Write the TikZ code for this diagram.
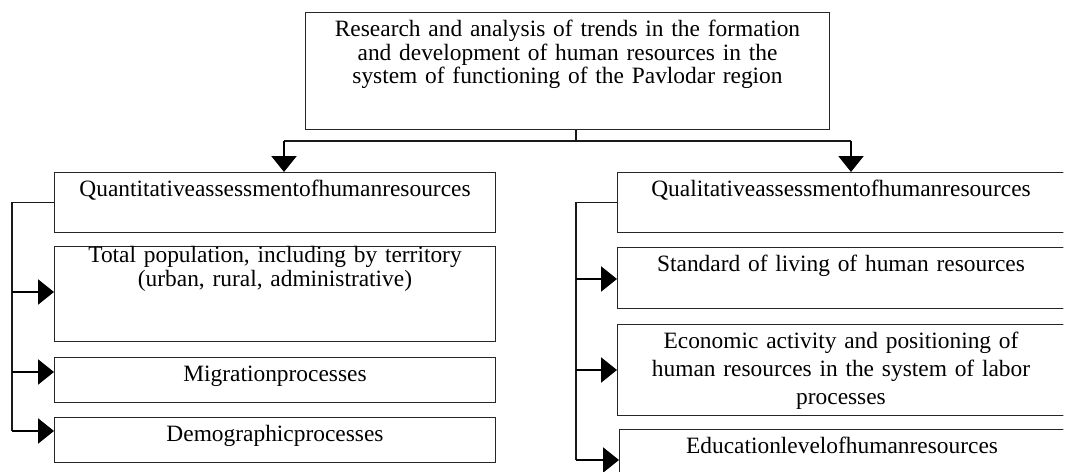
\documentclass[tikz,border=0pt]{standalone}
\usepackage{fontspec}
\setmainfont{Liberation Serif}
\usetikzlibrary{arrows.meta}
\usetikzlibrary{positioning}

\begin{document}
\begin{tikzpicture}[x=1pt, y=-1pt,
    box/.style={draw=black!85, line width=1pt, anchor=north west, inner xsep=0pt, inner ysep=8pt,
        align=center, text height=16pt, font=\fontsize{23.4}{28}\selectfont},
    link/.style={draw=black!90, line width=1.2pt},
    push/.style={line width=2.2pt, -{Triangle[length=16pt, width=25pt]}}]

    \useasboundingbox (0,0) rectangle (1065,471);
    \clip (0,0) rectangle (1063.4,471);

    % top block
    \node[box, text width=524pt, text depth=85pt, font=\fontsize{23.4}{23.5}\selectfont] (top) at (305,12) {Research and analysis of trends in the formation\\ and development of human resources in the\\ system of functioning of the Pavlodar region};

    % quantitative branch
    \node[box, text width=441pt, text depth=28pt] (quant) at (54,172) {Quantitativeassessmentofhumanresources};
    \node[box, text width=441pt, text height=8pt, text depth=71pt, font=\fontsize{23.4}{23.5}\selectfont] (total) at (54,246) {Total population, including by territory\\ (urban, rural, administrative)};
    \node[box, text width=441pt, text depth=13pt] (migr) at (54,357) {Migrationprocesses};
    \node[box, text width=441pt, text depth=13pt] (demog) at (54,417) {Demographicprocesses};

    % qualitative branch
    \node[box, text width=447pt, text depth=28pt] (qual) at (617,172) {Qualitativeassessmentofhumanresources};
    \node[box, text width=447pt, text depth=29pt] (living) at (617,247) {Standard of living of human resources};
    \node[box, text width=447pt, text depth=59pt] (econ) at (617,324) {Economic activity and positioning of\\ human resources in the system of labor\\ processes};
    \node[box, text width=445pt, text depth=30pt] (educ) at (619,429) {Educationlevelofhumanresources};

    \coordinate (fork) at (576,141);
    \coordinate (forkL) at (284,141);
    \coordinate (forkR) at (851,141);
    \coordinate (ltotal) at (12,292);
    \coordinate (lmigr) at (12,372);
    \coordinate (ldemog) at (12,431);
    \coordinate (rliving) at (576,279);
    \coordinate (recon) at (576,370);
    \coordinate (reduc) at (576,460);

    \draw[link] (top.south -| fork) -- (fork);
    \draw[link] (forkL) -- (forkR);
    \draw[push] (forkL) -- (forkL |- quant.north);
    \draw[push] (forkR) -- (forkR |- qual.north);

    \draw[link] (quant.west) -| (ldemog);
    \draw[push] (ltotal) -- (ltotal -| total.west);
    \draw[push] (lmigr) -- (lmigr -| migr.west);
    \draw[push] (ldemog) -- (ldemog -| demog.west);

    \draw[link] (qual.west) -| (reduc);
    \draw[push] (rliving) -- (rliving -| living.west);
    \draw[push] (recon) -- (recon -| econ.west);
    \draw[push] (reduc) -- (reduc -| educ.west);

\end{tikzpicture}
\end{document}
